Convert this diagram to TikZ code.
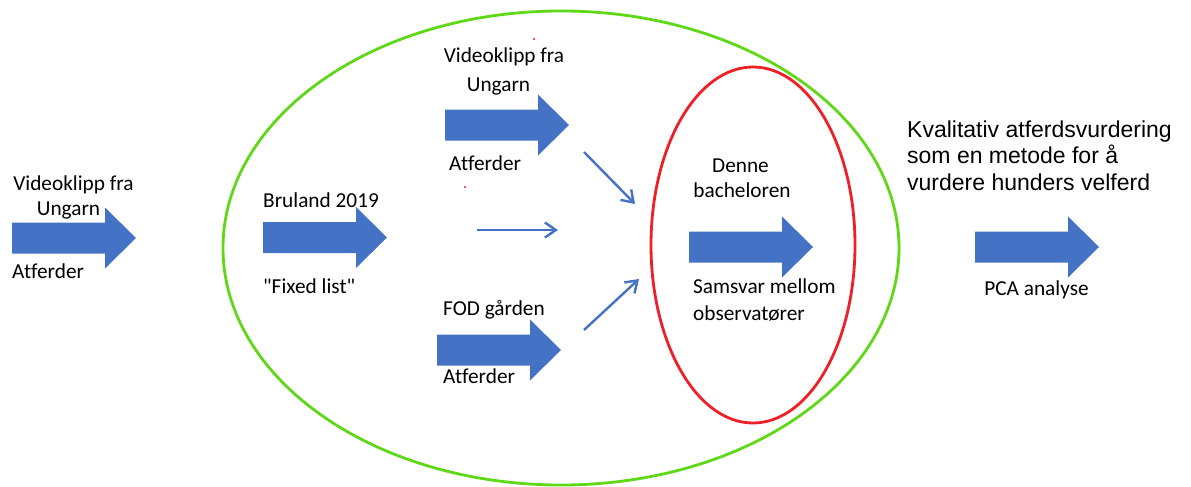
\documentclass[tikz,border=0pt]{standalone}
\usepackage{fontspec}
\setmainfont{Carlito}[Ligatures={TeXOff,NoCommon}]
\newfontfamily\arialf{Liberation Sans}
\usetikzlibrary{arrows.meta,shapes.geometric}
\definecolor{blk}{HTML}{4472C4}
\definecolor{grn}{HTML}{5FD817}
\definecolor{rd}{HTML}{EE2027}
\tikzset{
  blockarrow/.pic={\fill[blk] (0,-15.5) -- (93,-15.5) -- (93,-30.5) -- (124,0) -- (93,30.5) -- (93,15.5) -- (0,15.5) -- cycle;},
  lbl/.style={inner sep=0pt, font=\fontsize{21.3}{26}\selectfont, text=black},
  ttl/.style={inner sep=0pt, font=\arialf\fontsize{23}{26.5}\selectfont, text=black},
  thin/.style={draw=blk, line width=2.4pt, -{Straight Barb[length=11pt,width=15pt,line width=2.4pt]}},
  ring/.style={draw, ellipse, line width=2.8pt, inner sep=0pt}
}
\begin{document}
\begin{tikzpicture}[x=1pt,y=-1pt]
\useasboundingbox (0,0) rectangle (1191,487);
% ellipses
\node[ring, draw=grn, minimum width=676pt, minimum height=474pt] (outer) at (561,248) {};
\node[ring, draw=rd, minimum width=204pt, minimum height=356pt] (inner) at (753,245) {};
% block arrows
\pic at (12,238) {blockarrow};
\pic at (263,237.5) {blockarrow};
\pic at (445,125) {blockarrow};
\pic at (437,350) {blockarrow};
\pic at (689,247) {blockarrow};
\pic at (975,247) {blockarrow};
% thin arrows
\coordinate (a1s) at (584,152); \coordinate (a1e) at (635,204);
\coordinate (a2s) at (477,230); \coordinate (a2e) at (558,230);
\coordinate (a3s) at (584,330); \coordinate (a3e) at (639,279);
\draw[thin] (a1s) -- (a1e);
\draw[thin] (a2s) -- (a2e);
\draw[thin] (a3s) -- (a3e);
% stray dots
\fill[rd] (534,39) circle (1.2pt);
\fill[rd] (465,187) circle (1.2pt);
% left labels
\node[lbl, anchor=base] (l1) at (73.5,190) {Videoklipp fra};
\node[lbl, anchor=base] (l2) at (68.5,215) {Ungarn};
\node[lbl, anchor=base west] (l3) at (12,278) {Atferder};
% Bruland
\node[lbl, anchor=base west] (b1) at (263,207) {Bruland 2019};
\node[lbl, anchor=base west] (b2) at (263,293) {"Fixed list"};
% top
\node[lbl, anchor=base] (t1) at (504,63) {Videoklipp fra};
\node[lbl, anchor=base] (t2) at (498.5,91) {Ungarn};
\node[lbl, anchor=base west] (t3) at (449,170) {Atferder};
% FOD
\node[lbl, anchor=base west] (f1) at (443,315) {FOD gården};
\node[lbl, anchor=base west] (f2) at (443,383) {Atferder};
% inner
\node[lbl, anchor=base] (d1) at (740.5,172) {Denne};
\node[lbl, anchor=base] (d2) at (742,197) {bacheloren};
\node[lbl, anchor=base west] (s1) at (693,293) {Samsvar mellom};
\node[lbl, anchor=base west] (s2) at (693,320) {observatører};
% right
\node[ttl, anchor=base west] (k1) at (907,137) {Kvalitativ atferdsvurdering};
\node[ttl, anchor=base west] (k2) at (907,163) {som en metode for å};
\node[ttl, anchor=base west] (k3) at (907,190) {vurdere hunders velferd};
\node[lbl, anchor=base] (p1) at (1036.5,295) {PCA analyse};
\end{tikzpicture}
\end{document}
